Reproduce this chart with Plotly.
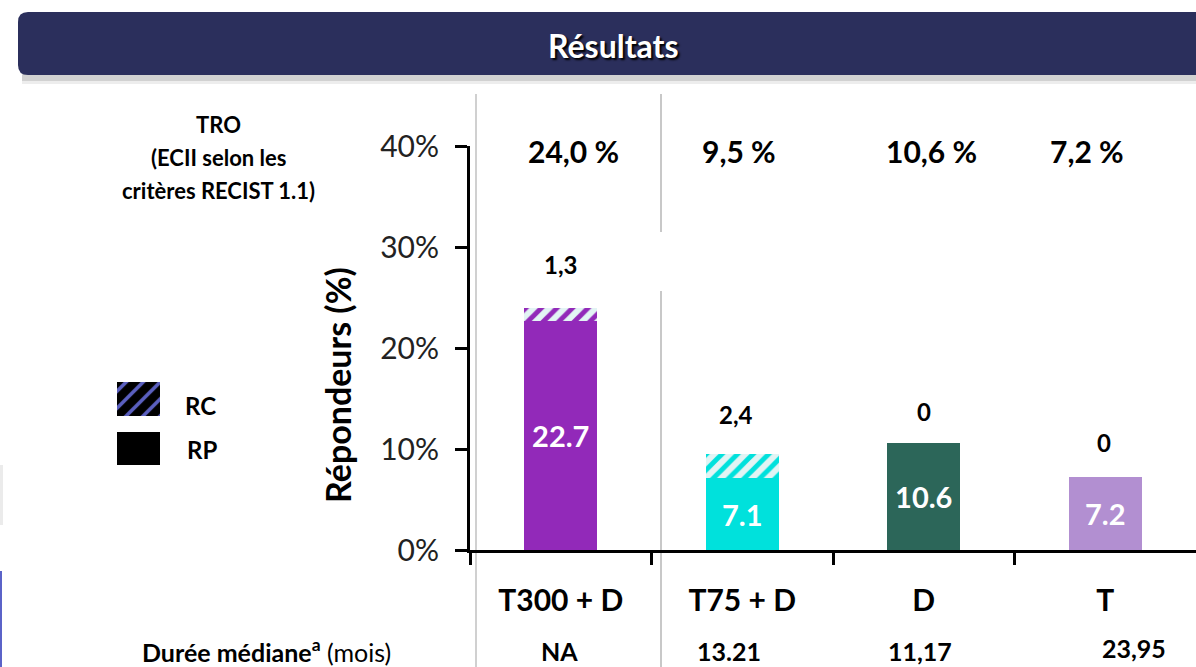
import plotly.graph_objects as go

# ---------------- data ----------------
categories = ["T300 + D", "T75 + D", "D", "T"]
rp_values = [22.7, 7.1, 10.6, 7.2]          # réponse partielle (%)
rc_values = [1.3, 2.4, 0, 0]                # réponse complète (%)
median_duration = ["NA", "13.21", "11,17", "23,95"]
y_ticks = [0, 10, 20, 30, 40]
y_tick_labels = ["0%", "10%", "20%", "30%", "40%"]

# ---------------- styles ----------------
bar_colors = ["#9229b9", "#00e1dc", "#2c6659", "#b28fd1"]
hatch_bg = "#e2f4f4"
W, H = 1196, 667
FONT = "Lato"


def px(x):
    return x / W


def py(y):
    return (H - y) / H


def fr(v):
    s = f"{v:.1f}" if v != int(v) else f"{v:g}"
    return s.replace(".", ",")


totals = [a + b for a, b in zip(rp_values, rc_values)]
tro_labels = [f"{t:.1f}".replace(".", ",") + " %" for t in totals]
rc_labels = [fr(v) for v in rc_values]
x_idx = list(range(len(categories)))

fig = go.Figure()

# RP segment
fig.add_trace(go.Bar(
    x=categories, y=rp_values,
    marker=dict(color=bar_colors, line=dict(width=0)),
    width=0.4,
    text=[f"{v}" for v in rp_values],
    textposition="inside", insidetextanchor="middle", textangle=0,
    textfont=dict(family=FONT, size=29, color="white", weight="bold"),
    hoverinfo="skip", showlegend=False,
))
# RC segment (hatched) - one trace per category so each keeps its own pattern colours
for cat, val, col in zip(categories, rc_values, bar_colors):
    fig.add_trace(go.Bar(
        x=[cat], y=[val],
        marker=dict(color=hatch_bg, line=dict(width=0),
                    pattern=dict(shape="/", fgcolor=col, bgcolor=hatch_bg,
                                 fgopacity=1, size=11, solidity=0.45)),
        width=0.4, hoverinfo="skip", showlegend=False,
    ))

# legend swatches (RP, RC) on a small auxiliary axis
fig.add_trace(go.Bar(
    x=[1], y=["RP"], orientation="h",
    marker=dict(color="black", line=dict(width=0)),
    width=0.667, xaxis="x2", yaxis="y2", hoverinfo="skip", showlegend=False,
))
fig.add_trace(go.Bar(
    x=[1], y=["RC"], orientation="h",
    marker=dict(color="black", line=dict(width=0),
                pattern=dict(shape="/", fgcolor="#5b60c0", bgcolor="black",
                             fgopacity=1, size=12, solidity=0.3)),
    width=0.667, xaxis="x2", yaxis="y2", hoverinfo="skip", showlegend=False,
))

fig.update_layout(
    width=W, height=H,
    margin=dict(l=0, r=0, t=0, b=0),
    paper_bgcolor="white", plot_bgcolor="white",
    barmode="stack",
    font=dict(family=FONT, color="black"),
    xaxis=dict(domain=[px(470), 1], range=[-0.5, 3.5], type="category",
               categoryorder="array", categoryarray=categories,
               showline=True, linecolor="black", linewidth=3,
               ticks="outside", ticklen=12, tickwidth=3, tickcolor="black",
               tickson="boundaries", showgrid=False, zeroline=False,
               tickfont=dict(family=FONT, size=30, color="black", weight="bold"),
               ticklabelstandoff=22, automargin=False, fixedrange=True),
    yaxis=dict(domain=[py(550), py(146)], range=[0, 40],
               tickvals=y_ticks, ticktext=y_tick_labels,
               showline=True, linecolor="black", linewidth=3,
               ticks="outside", ticklen=12, tickwidth=3, tickcolor="black",
               showgrid=False, zeroline=False,
               tickfont=dict(family=FONT, size=30, color="#222"),
               ticklabelstandoff=10, automargin=False, fixedrange=True),
    xaxis2=dict(domain=[px(117), px(160)], range=[0, 1], visible=False,
                anchor="y2", fixedrange=True),
    yaxis2=dict(domain=[py(473.25), py(374.25)], type="category",
                categoryorder="array", categoryarray=["RP", "RC"],
                visible=False, anchor="x2", fixedrange=True),
)

shapes = []
# title bar shadow
shapes.append(dict(type="rect", xref="paper", yref="paper",
                   x0=px(22), x1=px(1210), y0=py(81), y1=py(74),
                   fillcolor="rgba(0,0,0,0.18)", line=dict(width=0), layer="below"))
shapes.append(dict(type="rect", xref="paper", yref="paper",
                   x0=px(22), x1=px(1210), y0=py(84), y1=py(81),
                   fillcolor="rgba(0,0,0,0.07)", line=dict(width=0), layer="below"))
# title bar (rounded left corners)
x0, x1, y0, y1, r = 18, 1215, 12, 75, 10
path = (f"M {px(x0 + r)},{py(y0)} L {px(x1)},{py(y0)} L {px(x1)},{py(y1)} "
        f"L {px(x0 + r)},{py(y1)} Q {px(x0)},{py(y1)} {px(x0)},{py(y1 - r)} "
        f"L {px(x0)},{py(y0 + r)} Q {px(x0)},{py(y0)} {px(x0 + r)},{py(y0)} Z")
shapes.append(dict(type="path", xref="paper", yref="paper", path=path,
                   fillcolor="#2b2f5c", line=dict(width=0)))
# thin grey slide separators
shapes.append(dict(type="line", xref="paper", yref="paper",
                   x0=px(476), x1=px(476), y0=py(94), y1=py(667),
                   line=dict(color="#d0d0d0", width=2), layer="below"))
shapes.append(dict(type="line", xref="paper", yref="paper",
                   x0=px(661), x1=px(661), y0=py(94), y1=py(232),
                   line=dict(color="#c8c8c8", width=2), layer="below"))
shapes.append(dict(type="line", xref="paper", yref="paper",
                   x0=px(661), x1=px(661), y0=py(291), y1=py(667),
                   line=dict(color="#c8c8c8", width=2), layer="below"))
# left edge artefacts
shapes.append(dict(type="rect", xref="paper", yref="paper",
                   x0=0, x1=px(3), y0=py(525), y1=py(465),
                   fillcolor="rgba(0,0,0,0.08)", line=dict(width=0)))
shapes.append(dict(type="rect", xref="paper", yref="paper",
                   x0=0, x1=px(2), y0=py(667), y1=py(571),
                   fillcolor="#5b63c8", line=dict(width=0)))
fig.update_layout(shapes=shapes)

ann = []


def add_text(text, x, y, size, xref="paper", yref="paper", **kw):
    d = dict(text=text, x=x, y=y, xref=xref, yref=yref, showarrow=False,
             xanchor=kw.pop("xanchor", "center"), yanchor=kw.pop("yanchor", "middle"),
             font=dict(size=size, **kw.pop("font", {})))
    d.update(kw)
    ann.append(d)


add_text("<b>Résultats</b>", px(613), py(45), 32,
         font=dict(color="white", shadow="2px 2px 2px #000"))
# TRO caption
for txt, yy in [("TRO", 125), ("(ECII selon les", 158), ("critères RECIST 1.1)", 190)]:
    add_text(f"<b>{txt}</b>", px(218), py(yy), 22)
# legend text
add_text("<b>RC</b>", px(183), py(405), 24, xanchor="left")
add_text("<b>RP</b>", px(185), py(449), 24, xanchor="left")
# y axis title
add_text("<b>Répondeurs (%)</b>", px(338), py(385), 34, textangle=-90)
# TRO values on top row
tro_xshift = [13, -3, 8, -18]
for i, t in enumerate(tro_labels):
    add_text(f"<b>{t}</b>", x_idx[i], py(151), 30, xref="x", xshift=tro_xshift[i])
# RC values above bars
rc_yshift = [43, 40, 31, 35]
rc_xshift = [0, -6, 0, -1]
for i, t in enumerate(rc_labels):
    add_text(f"<b>{t}</b>", x_idx[i], totals[i], 24, xref="x", yref="y",
             yshift=rc_yshift[i], xshift=rc_xshift[i])
# median duration row
add_text("<b>Durée médiane<sup>a</sup></b> (mois)", px(266), py(650), 25)
md_xshift = [-1, -13, -4, 29]
md_y = [651, 651, 651, 648]
for i, t in enumerate(median_duration):
    add_text(f"<b>{t}</b>", x_idx[i], py(md_y[i]), 25, xref="x", xshift=md_xshift[i])
fig.update_layout(annotations=ann)

fig.write_html("out.html")
